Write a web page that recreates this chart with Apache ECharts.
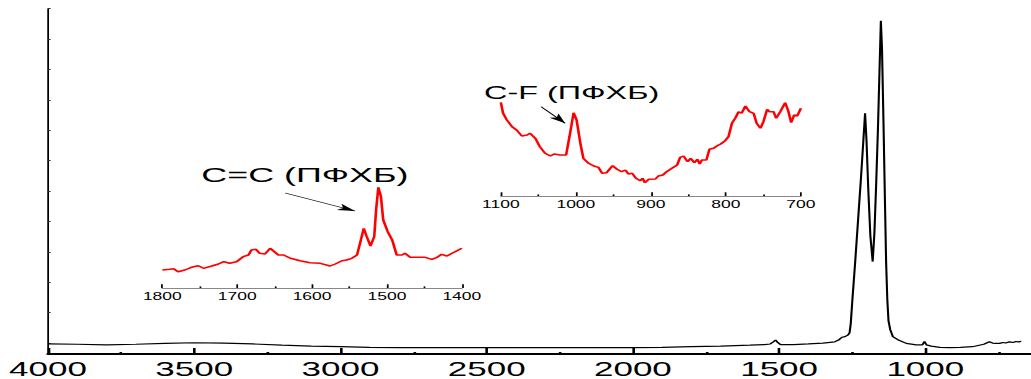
<!DOCTYPE html>
<html><head><meta charset="utf-8">
<script src="https://cdn.jsdelivr.net/npm/echarts@6/dist/echarts.min.js"></script>
<style>
html,body{margin:0;padding:0;overflow:hidden;background:#fff;width:1031px;height:379px}
#c{width:589px;height:379px;transform:scaleX(1.7505);transform-origin:0 0}
</style></head><body><div id="c"></div>
<script>
// Main IR spectrum (wavenumber, cm-1 / absorbance, a.u.)
const mainWN = [4000,3900,3800,3700,3600,3500,3400,3300,3200,3100,3000,2900,2800,2700,2600,2500,2400,2300,2200,2100,2000,1900,1800,1700,1600,1550,1530,1520,1512,1505,1495,1450,1400,1350,1310,1295,1285,1275,1265,1259,1255,1250,1240,1230,1220,1212,1206,1201,1195,1188,1180,1174,1168,1162,1157,1152,1148,1143,1138,1134,1130,1126,1120,1111,1090,1065,1031,1010,1003,996,980,950,917,880,839,800,781,770,760,746,735,725,712,700,690,680,672];
const mainAbs = [0.33,0.32,0.30,0.32,0.35,0.37,0.36,0.33,0.29,0.26,0.24,0.22,0.21,0.21,0.21,0.21,0.21,0.21,0.21,0.21,0.21,0.22,0.24,0.26,0.29,0.31,0.33,0.40,0.46,0.38,0.31,0.31,0.33,0.36,0.40,0.47,0.55,0.57,0.62,0.70,1.0,1.7,3.0,4.4,5.8,7.0,7.92,7.0,5.4,3.9,3.04,4.0,5.6,7.4,9.2,10.96,10.0,7.6,5.0,3.0,1.8,1.1,0.8,0.57,0.45,0.35,0.30,0.30,0.41,0.30,0.26,0.22,0.21,0.22,0.24,0.32,0.40,0.36,0.35,0.35,0.38,0.36,0.40,0.38,0.41,0.40,0.42];

// Inset 1: C=C region 1800-1400
const ccWN = [1800,1790,1785,1779,1770,1761,1752,1745,1734,1725,1718,1710,1701,1692,1685,1681,1675,1670,1663,1656,1652,1645,1638,1629,1616,1603,1589,1576,1569,1560,1554,1547,1540,1536,1531,1527,1522,1517,1514.5,1511.5,1508,1505,1499,1493,1487,1480,1476,1469,1460,1449,1440,1433,1427,1420,1413,1400];
const ccAbs = [18,18.7,19.3,16.3,18,20.7,22.3,19.7,22,24,26.3,24.7,26.3,31.3,33,38,38.7,34.7,34,39.7,37.3,33,33,29.7,27.3,25.3,24.7,22,24,27.3,28,29.7,33,44.7,59.7,51.3,42,51.3,78,100.7,91.3,68,56.3,48,33,33,34.7,30.7,30.7,30.7,28.7,30.7,33.7,32,34.7,39.7];

// Inset 2: C-F region 1100-700
const cfWN = [1100,1097,1092,1085,1079,1072,1065,1061,1054,1048,1041,1034,1029,1021,1013,1008.5,1003,999,994,990,983,976,970,965,959,951,945,939,934,930,925,920,914,911,908,903,894,890,884,879,872,865,861,856.5,851,847,842,838,835,832,826,822,816.5,812,807,801,796.5,792,787.6,783,779,774,768.5,763,759,754,750,745,742,736.5,733,727.6,721,717,713,709,705,700];
const cfAbs = [93.7,82.7,76,69.3,66,60,61,62.7,57.7,49.3,42.7,40,42,41,41,59.3,83.3,76,52.7,37.7,32.7,30,28.7,22.7,23.3,30.3,26.7,24.3,26,22,22.7,17.7,15.3,17.7,13.3,16.7,17,20,21,24.3,27.7,31,38.7,40,34.3,37.7,33.3,36.7,32,36,36,46.7,47.7,50,52,55.3,59.3,72.7,77.7,84.3,82.7,90,84.3,82.7,72.7,67.7,74.3,86.7,84.3,84.3,77.7,84.3,93.3,85.3,73.3,81,80,87.7];

// Annotations
const ccLabel = 'C=C (ПФХБ)';
const cfLabel = 'C-F (ПФХБ)';
const ccArrow = [[1636, 95], [1542.6, 77]];
const cfArrow = [[1046.3, 89.3], [1014.3, 72.7]];
const mainYTicks = [0.36,1.36,2.36,3.36,4.36,5.36,6.36,7.36,8.36,9.36,10.36,11.36];

const zip = (a, b) => a.map((v, i) => [v, b[i]]);
const FONT = '"Liberation Sans", Arial, sans-serif';

const chart = echarts.init(document.getElementById('c'), null, {renderer: 'svg'});

function insetX(gi, min, max) {
  return {
    gridIndex: gi, type: 'value', inverse: true, min: min, max: max, interval: 100,
    axisLine: {show: true, onZero: false, lineStyle: {color: '#888', width: 1}},
    axisTick: {show: true, inside: true, length: 3.7, lineStyle: {color: '#000', width: 1}},
    minorTick: {show: true, splitNumber: 2, length: 1.6, lineStyle: {color: '#000', width: 1}},
    axisLabel: {show: true, margin: 3, fontSize: 10, color: '#000', fontFamily: FONT,
      showMinLabel: true, showMaxLabel: true, formatter: v => String(v)},
    splitLine: {show: false}, minorSplitLine: {show: false}
  };
}

chart.setOption({
  animation: false,
  backgroundColor: '#fff',
  grid: [
    {left: 27.43, top: 8.7, width: 584.7, height: 345.3, outerBoundsMode: 'none', containLabel: false},
    {left: 92.74, top: 180, width: 171.09, height: 108, outerBoundsMode: 'none'},
    {left: 286.11, top: 96, width: 171.43, height: 100, outerBoundsMode: 'none'}
  ],
  xAxis: [
    {
      gridIndex: 0, type: 'value', inverse: true, min: 500, max: 4000, interval: 500,
      axisLine: {show: true, onZero: false, lineStyle: {color: '#000', width: 2}},
      axisTick: {show: true, inside: true, length: 6, lineStyle: {color: '#000', width: 1.5}},
      minorTick: {show: true, splitNumber: 2, length: 2, lineStyle: {color: '#000', width: 1.5}},
      axisLabel: {show: true, margin: 5, fontSize: 20, lineHeight: 20, color: '#000', fontFamily: FONT,
        formatter: v => (v === 500 ? '' : String(v))},
      splitLine: {show: false}, minorSplitLine: {show: false}
    },
    insetX(1, 1400, 1800),
    insetX(2, 700, 1100)
  ],
  yAxis: [
    {
      gridIndex: 0, type: 'value', min: 0, max: 11.36,
      axisLine: {show: true, onZero: false, lineStyle: {color: '#000', width: 1}},
      axisTick: {show: true, inside: true, length: 1.5, customValues: mainYTicks, lineStyle: {color: '#333', width: 1}},
      axisLabel: {show: false}, splitLine: {show: false}
    },
    {gridIndex: 1, type: 'value', min: 0, max: 108, show: false},
    {gridIndex: 2, type: 'value', min: 0, max: 100, show: false}
  ],
  series: [
    {type: 'line', xAxisIndex: 0, yAxisIndex: 0, data: zip(mainWN, mainAbs), showSymbol: false,
      lineStyle: {color: '#000', width: 1.2}, silent: true},
    {type: 'line', xAxisIndex: 1, yAxisIndex: 1, data: zip(ccWN, ccAbs), showSymbol: false,
      lineStyle: {color: '#ff0000', width: 1.5}, silent: true,
      markLine: {silent: true, symbol: ['none', 'arrow'], symbolSize: [5, 10], label: {show: false},
        lineStyle: {color: '#000', width: 0.8, type: 'solid'},
        data: [[{coord: ccArrow[0]}, {coord: ccArrow[1]}]]}},
    {type: 'line', xAxisIndex: 2, yAxisIndex: 2, data: zip(cfWN, cfAbs), showSymbol: false,
      lineStyle: {color: '#ff0000', width: 1.5}, silent: true,
      markLine: {silent: true, symbol: ['none', 'arrow'], symbolSize: [5, 10], label: {show: false},
        lineStyle: {color: '#000', width: 0.8, type: 'solid'},
        data: [[{coord: cfArrow[0]}, {coord: cfArrow[1]}]]}}
  ],
  graphic: [
    {type: 'text', x: 115, y: 175, style: {text: ccLabel, font: '20.5px ' + FONT, fill: '#000', verticalAlign: 'middle'}},
    {type: 'text', x: 276.5, y: 92.5, style: {text: cfLabel, font: '18.5px ' + FONT, fill: '#000', verticalAlign: 'middle'}}
  ]
});
</script></body></html>
